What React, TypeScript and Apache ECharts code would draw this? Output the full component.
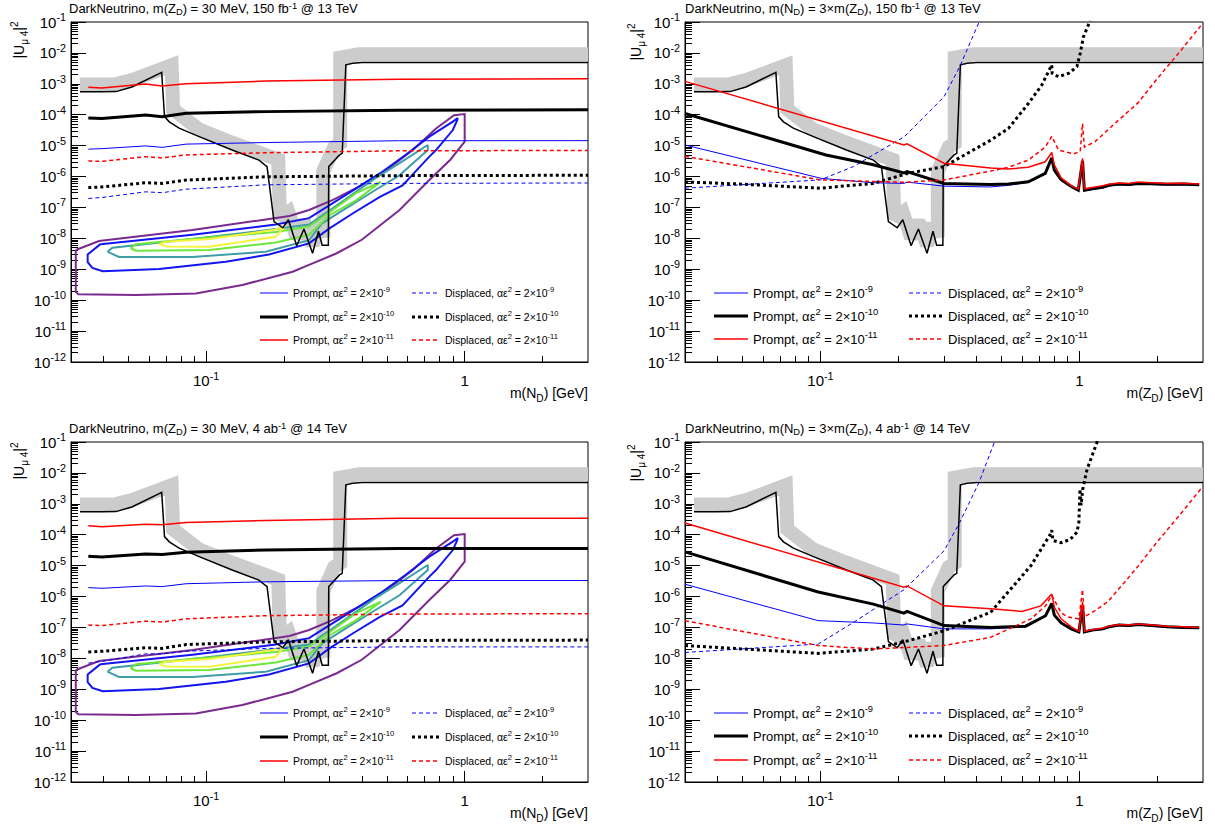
import React, { useEffect, useRef } from 'react';
import * as echarts from 'echarts';

const FONT = '"Liberation Sans", Arial, Helvetica, sans-serif';

// ---------------- axis ranges / ticks ----------------
const X_MIN = 0.03;
const X_MAX = 3;
const Y_MIN = 1e-12;
const Y_MAX = 1e-1;
const X_MAJOR = [0.1, 1];
const X_MINOR = [0.04, 0.05, 0.06, 0.07, 0.08, 0.09, 0.2, 0.3, 0.4, 0.5, 0.6, 0.7, 0.8, 0.9, 2];
const Y_EXPONENTS = [-12, -11, -10, -9, -8, -7, -6, -5, -4, -3, -2, -1];

// ---------------- existing limit (black line) and grey band ----------------
const LIMIT_M = [0.0325, 0.0395, 0.0448, 0.0516, 0.0673, 0.069, 0.072, 0.0786, 0.094, 0.126, 0.16, 0.172, 0.183, 0.198, 0.208, 0.224, 0.239, 0.258, 0.272, 0.281, 0.297, 0.298, 0.328, 0.336, 0.347, 0.369, 0.4, 3.0];
const LIMIT_U = [5.5e-4, 5.5e-4, 5.6e-4, 7.9e-4, 2.35e-3, 8.7e-5, 5.9e-5, 3.7e-5, 1.95e-5, 7.2e-6, 3.4e-6, 2.1e-6, 3.5e-8, 2.2e-8, 4e-8, 5.8e-9, 2e-8, 3.3e-9, 1.7e-8, 6e-9, 6e-9, 2.1e-6, 5e-6, 5.6e-6, 4.1e-3, 4.6e-3, 4.9e-3, 4.9e-3];
const BAND_M = [0.0325, 0.0445, 0.052, 0.0735, 0.0745, 0.094, 0.126, 0.16, 0.19, 0.193, 0.208, 0.224, 0.239, 0.258, 0.272, 0.284, 0.284, 0.313, 0.33, 0.33, 0.39, 3.0];
const BAND_U = [9.5e-4, 9.7e-4, 1.35e-3, 4e-3, 1.5e-4, 3.3e-5, 1.25e-5, 6e-6, 3.5e-6, 4.5e-8, 7e-8, 1.05e-8, 3.6e-8, 6e-9, 3e-8, 1.1e-8, 1.5e-6, 9e-6, 1.2e-5, 7e-3, 9e-3, 9e-3];

// ---------------- contours (left panels) ----------------
const PURPLE_M = [0.0313, 0.0385, 0.0885, 0.21, 0.25, 0.308, 0.39, 0.51, 0.63, 0.775, 0.91, 1.0, 1.0, 0.88, 0.73, 0.56, 0.4, 0.32, 0.25, 0.216, 0.138, 0.0912, 0.0535, 0.032, 0.0313, 0.0313];
const PURPLE_U = [4.2e-9, 8.2e-9, 1.85e-8, 5.3e-8, 8.3e-8, 1.73e-7, 4.7e-7, 1.85e-6, 7.2e-6, 3.6e-5, 9.7e-5, 1.05e-4, 1.35e-5, 3.5e-6, 7.7e-7, 8.3e-8, 9e-9, 3.3e-9, 1.38e-9, 8.3e-10, 3.1e-10, 1.66e-10, 1.48e-10, 1.55e-10, 1.86e-10, 4.2e-9];
const BLUE_M = [0.039, 0.0885, 0.186, 0.25, 0.308, 0.47, 0.59, 0.73, 0.9, 0.94, 0.935, 0.9, 0.775, 0.73, 0.575, 0.47, 0.37, 0.3, 0.25, 0.175, 0.119, 0.0658, 0.0398, 0.0363, 0.0348, 0.0348, 0.039];
const BLUE_U = [6.5e-9, 1.3e-8, 2.8e-8, 4.5e-8, 1.35e-7, 1.26e-6, 5e-6, 1.95e-5, 6e-5, 7.8e-5, 6.5e-5, 3.2e-5, 7.2e-6, 4.4e-6, 5.2e-7, 2.2e-7, 6.5e-8, 2.1e-8, 6.9e-9, 3e-9, 1.75e-9, 1.02e-9, 8.7e-10, 1.1e-9, 1.7e-9, 3e-9, 6.5e-9];
const TEAL_M = [0.0415, 0.0434, 0.0885, 0.186, 0.25, 0.3, 0.45, 0.56, 0.72, 0.72, 0.56, 0.45, 0.347, 0.28, 0.25, 0.17, 0.0885, 0.046, 0.0415];
const TEAL_U = [3.7e-9, 5e-9, 9.5e-9, 2e-8, 2.8e-8, 8e-8, 8.7e-7, 2.7e-6, 1.05e-5, 7.2e-6, 1.1e-6, 3.6e-7, 9.3e-8, 3e-8, 8.7e-9, 3.7e-9, 2.5e-9, 2.5e-9, 3.7e-9];
const GREEN_M = [0.051, 0.0535, 0.094, 0.186, 0.25, 0.3, 0.38, 0.474, 0.38, 0.3, 0.25, 0.186, 0.103, 0.0535, 0.051];
const GREEN_U = [4.8e-9, 6.5e-9, 1e-8, 1.6e-8, 2.4e-8, 7e-8, 2.9e-7, 6.8e-7, 1.7e-7, 5.6e-8, 1.3e-8, 7.4e-9, 4.2e-9, 4.0e-9, 4.8e-9];
const YELLOW_M = [0.0658, 0.07, 0.103, 0.181, 0.2, 0.186, 0.103, 0.07, 0.0658];
const YELLOW_U = [6.5e-9, 7.8e-9, 9.5e-9, 1.85e-8, 2.3e-8, 1.12e-8, 5.4e-9, 5.5e-9, 6.5e-9];

// ---------------- left panels: m(N_D) scans ----------------
const ND_MASS = [0.035, 0.0395, 0.0583, 0.0676, 0.0836, 0.17, 0.56, 3.0];
const TL_P9 = [7.7e-6, 8e-6, 9.8e-6, 8.8e-6, 1.12e-5, 1.26e-5, 1.44e-5, 1.45e-5];
const TL_P10 = [7.9e-5, 7.6e-5, 9.8e-5, 8.6e-5, 1.12e-4, 1.26e-4, 1.4e-4, 1.45e-4];
const TL_P11 = [7.8e-4, 7.3e-4, 9.9e-4, 8.5e-4, 1.0e-3, 1.23e-3, 1.4e-3, 1.45e-3];
const TL_D9 = [1.95e-7, 2.1e-7, 3.2e-7, 3e-7, 3.9e-7, 5.4e-7, 6e-7, 6.2e-7];
const TL_D10 = [4.4e-7, 4.6e-7, 6.3e-7, 6e-7, 7.7e-7, 9.8e-7, 1.07e-6, 1.1e-6];
const TL_D11 = [3.2e-6, 3.1e-6, 4.4e-6, 4e-6, 5e-6, 5.9e-6, 6.8e-6, 7e-6];

const BL_P9 = [1.95e-6, 1.85e-6, 2.2e-6, 2.1e-6, 2.6e-6, 3.0e-6, 3.3e-6, 3.3e-6];
const BL_P10 = [2.0e-5, 1.9e-5, 2.4e-5, 2.3e-5, 2.7e-5, 3.2e-5, 3.6e-5, 3.6e-5];
const BL_P11 = [1.95e-4, 1.8e-4, 2.2e-4, 2.1e-4, 2.5e-4, 2.9e-4, 3.4e-4, 3.4e-4];
const BL_D9 = [7e-9, 8e-9, 1.4e-8, 1.4e-8, 1.7e-8, 2.1e-8, 2.35e-8, 2.35e-8];
const BL_D10 = [1.6e-8, 1.7e-8, 2.2e-8, 2.1e-8, 2.8e-8, 3.4e-8, 3.8e-8, 3.9e-8];
const BL_D11 = [1.2e-7, 1.15e-7, 1.6e-7, 1.5e-7, 1.9e-7, 2.4e-7, 2.7e-7, 2.8e-7];

// ---------------- top right: m(Z_D) scans, 150 fb-1 ----------------
const TR_P11_M = [0.03, 0.21, 0.216, 0.3, 0.454, 0.532, 0.635, 0.738, 0.782, 0.8, 0.85, 0.93, 0.99, 1.028, 1.045, 1.12, 1.23, 1.3, 1.42, 1.55, 1.69, 1.9, 2.18, 2.5, 2.9];
const TR_P11_U = [1.2e-3, 1.05e-5, 1.15e-5, 2.7e-6, 1.9e-6, 1.75e-6, 2.0e-6, 3.0e-6, 6.0e-6, 2.4e-6, 9e-7, 5e-7, 3.9e-7, 3.9e-6, 4e-7, 4.4e-7, 5e-7, 5.6e-7, 6.2e-7, 6.0e-7, 6.6e-7, 6.3e-7, 6.0e-7, 6.1e-7, 5.7e-7];
const TR_P10_M = [0.03, 0.105, 0.16, 0.21, 0.216, 0.3, 0.454, 0.532, 0.635, 0.738, 0.782, 0.8, 0.85, 0.93, 0.99, 1.028, 1.045, 1.12, 1.23, 1.3, 1.42, 1.55, 1.69, 1.9, 2.18, 2.5, 2.9];
const TR_P10_U = [1.1e-4, 5e-6, 2.4e-6, 1.3e-6, 1.45e-6, 6e-7, 5.5e-7, 5.7e-7, 6.8e-7, 1.26e-6, 4.0e-6, 1.6e-6, 8e-7, 4.8e-7, 3.6e-7, 3.2e-6, 3.6e-7, 4e-7, 4.5e-7, 5.2e-7, 5.7e-7, 5.5e-7, 6.0e-7, 5.8e-7, 5.6e-7, 5.7e-7, 5.4e-7];
const TR_P9_M = [0.03, 0.101, 0.16, 0.21, 0.216, 0.3, 0.454, 0.532, 0.635, 0.738, 0.782, 0.8, 0.85, 0.93, 0.99, 1.028, 1.045, 1.12, 1.23, 1.3, 1.42, 1.55, 1.69, 1.9, 2.18, 2.5, 2.9];
const TR_P9_U = [1.05e-5, 8.7e-7, 6.3e-7, 6e-7, 6.6e-7, 4.9e-7, 4.6e-7, 5.2e-7, 6.5e-7, 1.2e-6, 3.8e-6, 1.5e-6, 7.6e-7, 4.6e-7, 3.4e-7, 3.0e-6, 3.4e-7, 3.8e-7, 4.3e-7, 5.0e-7, 5.4e-7, 5.2e-7, 5.7e-7, 5.5e-7, 5.3e-7, 5.4e-7, 5.1e-7];
const TR_D11_M = [0.03, 0.1, 0.211, 0.3, 0.454, 0.532, 0.635, 0.738, 0.782, 0.83, 0.948, 1.007, 1.028, 1.045, 1.15, 1.37, 1.69, 2.0, 2.42, 2.94];
const TR_D11_U = [4.5e-6, 7.8e-7, 6.5e-7, 7.8e-7, 1.5e-6, 2.0e-6, 3.4e-6, 9e-6, 2e-5, 7.2e-6, 5.4e-6, 6.5e-6, 5.2e-5, 9e-6, 1.35e-5, 5.2e-5, 2.5e-4, 1.5e-3, 1e-2, 7.5e-2];
const TR_D10_M = [0.03, 0.047, 0.1, 0.16, 0.218, 0.3, 0.454, 0.532, 0.635, 0.715, 0.782, 0.785, 0.83, 0.91, 0.978, 1.007, 1.036, 1.1];
const TR_D10_U = [6.7e-7, 5.8e-7, 4.2e-7, 6e-7, 1.27e-6, 2.1e-6, 1.5e-5, 3.6e-5, 2.3e-4, 9e-4, 4.1e-3, 2.2e-3, 1.7e-3, 2.2e-3, 3.6e-3, 9.7e-3, 3.3e-2, 0.11];
const TR_D9_M = [0.03, 0.1, 0.134, 0.211, 0.3, 0.345, 0.41];
const TR_D9_U = [4.2e-7, 7.8e-7, 2.1e-6, 1.95e-5, 3.8e-4, 3.6e-3, 0.1];

// ---------------- bottom right: m(Z_D) scans, 4 ab-1 ----------------
const BR_P11_M = [0.03, 0.21, 0.216, 0.3, 0.454, 0.6, 0.71, 0.782, 0.8, 0.85, 0.93, 0.995, 1.028, 1.045, 1.12, 1.23, 1.3, 1.42, 1.55, 1.69, 1.9, 2.18, 2.5, 2.9];
const BR_P11_U = [2.4e-4, 2.0e-6, 2.2e-6, 5e-7, 4e-7, 3.3e-7, 5e-7, 1.2e-6, 4.5e-7, 1.9e-7, 1.05e-7, 7.5e-8, 6.6e-7, 7.5e-8, 8.5e-8, 9.5e-8, 1.1e-7, 1.25e-7, 1.2e-7, 1.3e-7, 1.2e-7, 1.1e-7, 1.05e-7, 1.0e-7];
const BR_P10_M = [0.03, 0.098, 0.16, 0.21, 0.216, 0.3, 0.454, 0.62, 0.74, 0.782, 0.8, 0.85, 0.93, 0.995, 1.028, 1.045, 1.12, 1.23, 1.3, 1.42, 1.55, 1.69, 1.9, 2.18, 2.5, 2.9];
const BR_P10_U = [2.8e-5, 1.4e-6, 5.7e-7, 2.9e-7, 3.3e-7, 1.15e-7, 1e-7, 1.1e-7, 2.4e-7, 6e-7, 2.5e-7, 1.4e-7, 9e-8, 7.2e-8, 5e-7, 7.2e-8, 8.2e-8, 9e-8, 1.05e-7, 1.2e-7, 1.15e-7, 1.25e-7, 1.15e-7, 1.05e-7, 1.0e-7, 9.8e-8];
const BR_P9_M = [0.03, 0.098, 0.16, 0.21, 0.216, 0.3, 0.454, 0.62, 0.74, 0.782, 0.8, 0.85, 0.93, 0.995, 1.028, 1.045, 1.12, 1.23, 1.3, 1.42, 1.55, 1.69, 1.9, 2.18, 2.5, 2.9];
const BR_P9_U = [2.5e-6, 1.66e-7, 1.4e-7, 1.2e-7, 1.3e-7, 9e-8, 9e-8, 1.05e-7, 2.3e-7, 5.7e-7, 2.4e-7, 1.35e-7, 8.6e-8, 6.9e-8, 4.8e-7, 6.9e-8, 7.9e-8, 8.6e-8, 1.0e-7, 1.15e-7, 1.1e-7, 1.2e-7, 1.1e-7, 1.0e-7, 9.6e-8, 9.4e-8];
const BR_D11_M = [0.03, 0.098, 0.16, 0.3, 0.454, 0.65, 0.74, 0.782, 0.85, 0.9, 0.995, 1.028, 1.045, 1.15, 1.29, 1.5, 1.69, 2.0, 2.42, 2.94];
const BR_D11_U = [1.65e-7, 2.6e-8, 2e-8, 2.6e-8, 4.8e-8, 1.9e-7, 5e-7, 1.1e-6, 3e-7, 2.2e-7, 1.9e-7, 1.7e-6, 2.2e-7, 3.5e-7, 7e-7, 3e-6, 1e-5, 6e-5, 4e-4, 3e-3];
const BR_D10_M = [0.03, 0.098, 0.16, 0.218, 0.3, 0.454, 0.65, 0.72, 0.77, 0.782, 0.79, 0.85, 0.92, 0.978, 0.995, 1.005, 1.015, 1.03, 1.07, 1.18];
const BR_D10_U = [2.6e-8, 1.45e-8, 2e-8, 3.7e-8, 7.8e-8, 3.1e-7, 1e-5, 4e-5, 1.0e-4, 1.4e-4, 6.5e-5, 5.5e-5, 7e-5, 1.2e-4, 2.5e-4, 3e-3, 9e-4, 3e-3, 1.3e-2, 0.12];
const BR_D9_M = [0.03, 0.098, 0.134, 0.211, 0.3, 0.345, 0.41, 0.47];
const BR_D9_U = [1.55e-8, 2.9e-8, 1.45e-7, 1.7e-6, 3e-5, 2.5e-4, 5e-3, 0.1];

// ---------------- texts ----------------
const TITLES = [
  'DarkNeutrino, m(Z{sub|D}) = 30 MeV, 150 fb{sup|-1} @ 13 TeV',
  'DarkNeutrino, m(N{sub|D}) = 3×m(Z{sub|D}), 150 fb{sup|-1} @ 13 TeV',
  'DarkNeutrino, m(Z{sub|D}) = 30 MeV, 4 ab{sup|-1} @ 14 TeV',
  'DarkNeutrino, m(N{sub|D}) = 3×m(Z{sub|D}), 4 ab{sup|-1} @ 14 TeV',
];
const X_TITLES = ['m(N{sub|D}) [GeV]', 'm(Z{sub|D}) [GeV]', 'm(N{sub|D}) [GeV]', 'm(Z{sub|D}) [GeV]'];
const Y_TITLE = '|U{sub|μ 4}|{sup|2}';
const LEGEND_TEXT: Record<string, string> = {
  P9: 'Prompt, αε{sup|2} = 2×10{sup|-9}',
  D9: 'Displaced, αε{sup|2} = 2×10{sup|-9}',
  P10: 'Prompt, αε{sup|2} = 2×10{sup|-10}',
  D10: 'Displaced, αε{sup|2} = 2×10{sup|-10}',
  P11: 'Prompt, αε{sup|2} = 2×10{sup|-11}',
  D11: 'Displaced, αε{sup|2} = 2×10{sup|-11}',
};
const LEGEND_ROWS = [['P9', 'D9'], ['P10', 'D10'], ['P11', 'D11']];

// ---------------- layout / styles ----------------
const GRIDS = [
  { left: 71, top: 22, width: 517, height: 340 },
  { left: 685, top: 22, width: 518, height: 340 },
  { left: 71, top: 442, width: 517, height: 340 },
  { left: 685, top: 442, width: 518, height: 340 },
];
const LEGEND_LAYOUT = [
  { cols: [260, 412], rows: [293, 317, 340], iw: 28, fs: 10.5 },
  { cols: [714, 909], rows: [293, 316, 339], iw: 34, fs: 13 },
  { cols: [260, 412], rows: [713, 737, 761], iw: 28, fs: 10.5 },
  { cols: [714, 909], rows: [713, 736, 760], iw: 34, fs: 13 },
];
const STYLE: Record<string, { color: string; width: number; dash: number[] | null }> = {
  P9: { color: '#0000ff', width: 1, dash: null },
  D9: { color: '#0000ff', width: 1, dash: [4, 3] },
  P10: { color: '#000000', width: 3, dash: null },
  D10: { color: '#000000', width: 3, dash: [3, 3] },
  P11: { color: '#ff0000', width: 1.5, dash: null },
  D11: { color: '#ff0000', width: 1.5, dash: [4, 3] },
};

function richFor(fs: number) {
  const s = Math.round(fs * 0.72 * 10) / 10;
  return {
    sup: { fontSize: s, lineHeight: s, verticalAlign: 'top', fontFamily: FONT, color: '#000', fill: '#000' },
    sub: { fontSize: s, lineHeight: s, verticalAlign: 'bottom', fontFamily: FONT, color: '#000', fill: '#000' },
  };
}

function powLabel(v: number) {
  const e = Math.round(Math.log10(v));
  return e === 0 ? '1' : `10{sup|${e}}`;
}

// legend icon: a filled path that looks like the (dashed) line sample
function iconPath(iw: number, lw: number, dash: number[] | null) {
  if (!dash) return `path://M0,0H${iw}V${lw}H0Z`;
  const parts: string[] = [];
  const period = dash[0] + dash[1];
  let x = 0;
  while (x < iw) {
    const end = Math.min(x + dash[0], iw);
    parts.push(`M${x},0H${end}V${lw}H${x}Z`);
    x += period;
  }
  parts.push(`M${iw},0V${lw}`);
  return 'path://' + parts.join(' ');
}

const pairs = (m: number[], u: number[]) => m.map((x, i) => [x, u[i]]);

function lineSeries(name: string, data: number[][], ai: number, color: string, width: number, type: any, z = 3) {
  return {
    type: 'line', name, xAxisIndex: ai, yAxisIndex: ai, data,
    symbol: 'none', showSymbol: false, silent: true, clip: true, z,
    lineStyle: { color, width, type, cap: 'butt', join: 'miter', miterLimit: 2 },
    itemStyle: { color },
    emphasis: { disabled: true },
  };
}

function buildOption() {
  const yMajor = Y_EXPONENTS.map((e) => Math.pow(10, e));
  const yMinor: number[] = [];
  Y_EXPONENTS.forEach((e) => {
    if (e >= -1) return;
    for (let k = 2; k <= 9; k++) yMinor.push(k * Math.pow(10, e));
  });

  const grid = GRIDS.map((g) => ({ ...g, show: true, borderColor: '#000', borderWidth: 1, backgroundColor: '#fff', containLabel: false }));
  const xAxis: any[] = [];
  const yAxis: any[] = [];
  GRIDS.forEach((_, p) => {
    xAxis.push({
      gridIndex: p, type: 'log', logBase: 10, min: X_MIN, max: X_MAX, position: 'bottom',
      axisLine: { show: true, onZero: false, lineStyle: { color: '#000', width: 1 } },
      axisTick: { show: true, inside: true, length: 11, customValues: X_MAJOR, lineStyle: { color: '#000', width: 1 } },
      axisLabel: { show: true, customValues: X_MAJOR, formatter: powLabel, margin: 8, fontSize: 15, fontFamily: FONT, color: '#000', lineHeight: 21, rich: richFor(15) },
      splitLine: { show: false }, minorTick: { show: false },
    });
    xAxis.push({
      gridIndex: p, type: 'log', logBase: 10, min: X_MIN, max: X_MAX, position: 'bottom',
      axisLine: { show: false, onZero: false },
      axisTick: { show: true, inside: true, length: 6, customValues: X_MINOR, lineStyle: { color: '#000', width: 1 } },
      axisLabel: { show: false }, splitLine: { show: false },
    });
    yAxis.push({
      gridIndex: p, type: 'log', logBase: 10, min: Y_MIN, max: Y_MAX, position: 'left',
      axisLine: { show: true, onZero: false, lineStyle: { color: '#000', width: 1 } },
      axisTick: { show: true, inside: true, length: 15, customValues: yMajor, lineStyle: { color: '#000', width: 1 } },
      axisLabel: { show: true, customValues: yMajor, formatter: powLabel, margin: 5, fontSize: 15, fontFamily: FONT, color: '#000', lineHeight: 21, rich: richFor(15) },
      splitLine: { show: false }, minorTick: { show: false },
    });
    yAxis.push({
      gridIndex: p, type: 'log', logBase: 10, min: Y_MIN, max: Y_MAX, position: 'left',
      axisLine: { show: false, onZero: false },
      axisTick: { show: true, inside: true, length: 7, customValues: yMinor, lineStyle: { color: '#000', width: 1 } },
      axisLabel: { show: false }, splitLine: { show: false },
    });
  });

  const scans = [
    { P9: pairs(ND_MASS, TL_P9), D9: pairs(ND_MASS, TL_D9), P10: pairs(ND_MASS, TL_P10), D10: pairs(ND_MASS, TL_D10), P11: pairs(ND_MASS, TL_P11), D11: pairs(ND_MASS, TL_D11) },
    { P9: pairs(TR_P9_M, TR_P9_U), D9: pairs(TR_D9_M, TR_D9_U), P10: pairs(TR_P10_M, TR_P10_U), D10: pairs(TR_D10_M, TR_D10_U), P11: pairs(TR_P11_M, TR_P11_U), D11: pairs(TR_D11_M, TR_D11_U) },
    { P9: pairs(ND_MASS, BL_P9), D9: pairs(ND_MASS, BL_D9), P10: pairs(ND_MASS, BL_P10), D10: pairs(ND_MASS, BL_D10), P11: pairs(ND_MASS, BL_P11), D11: pairs(ND_MASS, BL_D11) },
    { P9: pairs(BR_P9_M, BR_P9_U), D9: pairs(BR_D9_M, BR_D9_U), P10: pairs(BR_P10_M, BR_P10_U), D10: pairs(BR_D10_M, BR_D10_U), P11: pairs(BR_P11_M, BR_P11_U), D11: pairs(BR_D11_M, BR_D11_U) },
  ];
  const contours = [
    { d: pairs(PURPLE_M, PURPLE_U), c: '#7a2a8e' },
    { d: pairs(BLUE_M, BLUE_U), c: '#1414f0' },
    { d: pairs(TEAL_M, TEAL_U), c: '#3e9ea6' },
    { d: pairs(GREEN_M, GREEN_U), c: '#6ee63c' },
    { d: pairs(YELLOW_M, YELLOW_U), c: '#f4f43c' },
  ];

  const series: any[] = [];
  GRIDS.forEach((_, p) => {
    const ai = 2 * p;
    series.push(lineSeries('band' + p, pairs(BAND_M, BAND_U), ai, '#cccccc', 14, 'solid', 1));
    if (p === 0 || p === 2) {
      contours.forEach((c, k) => series.push(lineSeries('contour' + p + '_' + k, c.d, ai, c.c, 2, 'solid', 2)));
    }
    series.push(lineSeries('limit' + p, pairs(LIMIT_M, LIMIT_U), ai, '#000000', 1.5, 'solid', 2));
    ['P9', 'D9', 'P10', 'D10', 'P11', 'D11'].forEach((k) => {
      const st = STYLE[k];
      series.push(lineSeries(k, (scans[p] as any)[k], ai, st.color, st.width, st.dash || 'solid', 3));
    });
  });

  const legend: any[] = [];
  LEGEND_LAYOUT.forEach((L) => {
    const lh = Math.round(L.fs * 1.45);
    LEGEND_ROWS.forEach((row, r) => {
      row.forEach((name, c) => {
        const st = STYLE[name];
        legend.push({
          show: true,
          data: [{ name, icon: iconPath(L.iw, st.width, st.dash) }],
          left: L.cols[c], top: L.rows[r] - lh / 2, padding: 0,
          itemWidth: L.iw, itemHeight: st.width, selectedMode: false,
          formatter: (n: string) => LEGEND_TEXT[n],
          itemStyle: { color: st.color, opacity: 1, borderWidth: 0 },
          textStyle: { fontSize: L.fs, fontFamily: FONT, color: '#000', lineHeight: lh, rich: richFor(L.fs) },
        });
      });
    });
  });

  const titlePos = [
    { left: 69, top: 1 }, { left: 685, top: 1 }, { left: 69, top: 421 }, { left: 685, top: 421 },
  ];
  const title = TITLES.map((t, i) => ({
    text: t, left: titlePos[i].left, top: titlePos[i].top, padding: 0,
    textStyle: { fontSize: 13, fontWeight: 'normal', fontFamily: FONT, color: '#000', lineHeight: 15, rich: richFor(13) },
  }));

  const graphic: any[] = [];
  const xTitlePos = [[588, 393], [1203, 393], [588, 813], [1203, 813]];
  const yTitlePos = [[19, 40], [636, 42], [19, 461], [636, 463]];
  GRIDS.forEach((_, p) => {
    graphic.push({
      type: 'text', x: xTitlePos[p][0], y: xTitlePos[p][1], silent: true,
      style: { text: X_TITLES[p], fontSize: 14, fontFamily: FONT, fill: '#000', align: 'right', verticalAlign: 'middle', lineHeight: 20, rich: richFor(14) },
    });
    graphic.push({
      type: 'text', x: yTitlePos[p][0], y: yTitlePos[p][1], rotation: Math.PI / 2, silent: true,
      style: { text: Y_TITLE, fontSize: 14, fontFamily: FONT, fill: '#000', align: 'center', verticalAlign: 'middle', lineHeight: 20, rich: richFor(14) },
    });
  });

  return {
    animation: false,
    backgroundColor: '#ffffff',
    title, grid, xAxis, yAxis, series, legend, graphic,
  };
}

export default function App() {
  const ref = useRef<HTMLDivElement>(null);
  useEffect(() => {
    if (!ref.current) return;
    const chart = echarts.init(ref.current, null, { renderer: 'svg', width: 1215, height: 831 });
    chart.setOption(buildOption() as any);
    return () => chart.dispose();
  }, []);
  return (
    <div
      ref={ref}
      style={{ position: 'absolute', left: 0, top: 0, width: 1215, height: 831, background: '#fff' }}
    />
  );
}
